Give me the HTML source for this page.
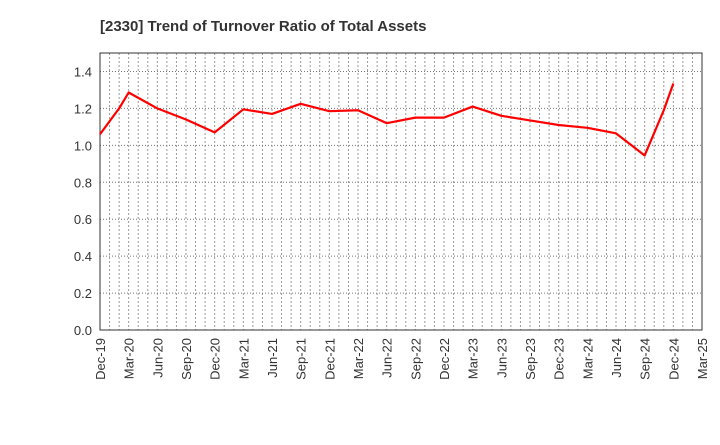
<!DOCTYPE html>
<html><head><meta charset="utf-8"><style>
body{margin:0;background:#fff;font-family:"Liberation Sans",sans-serif}
</style></head><body>
<svg id="c" width="720" height="440" xmlns="http://www.w3.org/2000/svg">
<text x="100" y="31" font-size="15" font-weight="bold" fill="#333">[2330]  Trend of Turnover Ratio of Total Assets</text>
<g id="grid"></g><g id="axes"></g><g id="series"></g>
</svg>
<script>
const monthIdx=[0,2,3,6,9,12,15,18,21,24,27,30,33,36,39,42,45,48,51,54,57,59,60];
const values=[1.06,1.20,1.286,1.20,1.14,1.07,1.195,1.17,1.225,1.185,1.19,1.12,1.15,1.15,1.21,1.16,1.135,1.11,1.095,1.065,0.945,1.19,1.335];
const yTicks=[0,0.2,0.4,0.6,0.8,1.0,1.2,1.4];
const xLabels=["Dec-19","Mar-20","Jun-20","Sep-20","Dec-20","Mar-21","Jun-21","Sep-21","Dec-21","Mar-22","Jun-22","Sep-22","Dec-22","Mar-23","Jun-23","Sep-23","Dec-23","Mar-24","Jun-24","Sep-24","Dec-24","Mar-25"];
const L=100,R=702,T=53,B=330,NM=63,YMAX=1.5;
const xs=m=>L+(R-L)*m/NM, ys=v=>B-(B-T)*v/YMAX;
const NS="http://www.w3.org/2000/svg";
function mk(tag,attrs,parent){const e=document.createElementNS(NS,tag);for(const k in attrs)e.setAttribute(k,attrs[k]);parent.appendChild(e);return e;}
const g=document.getElementById('grid'),a=document.getElementById('axes'),s=document.getElementById('series');
for(let m=1;m<NM;m++){const l=mk('line',{x1:xs(m),x2:xs(m),y1:T,y2:B,stroke:'#999','stroke-dasharray':'2,2','stroke-width':1},g);

}
yTicks.forEach(v=>{if(v>0){const l=mk('line',{x1:L,x2:R,y1:ys(v),y2:ys(v),stroke:'#777','stroke-dasharray':'1,2','stroke-width':1},g);

}
const t=mk('text',{x:L-8,y:ys(v)+5,'text-anchor':'end','font-size':13,fill:'#333'},a);t.textContent=v.toFixed(1);

});
const fr=mk('rect',{x:L,y:T,width:R-L,height:B-T,fill:'none',stroke:'#333','stroke-width':1},a);


xLabels.forEach((lab,i)=>{const x=xs(i*3)+5;const t=mk('text',{x:x,y:B+8,'text-anchor':'end','font-size':13,fill:'#333',transform:`rotate(-90 ${x} ${B+8})`},a);t.textContent=lab;

});
const p=mk('polyline',{points:monthIdx.map((m,i)=>xs(m)+','+ys(values[i])).join(' '),fill:'none',stroke:'#f00','stroke-width':2.2,'stroke-linejoin':'round'},s);


</script>
</body></html>
